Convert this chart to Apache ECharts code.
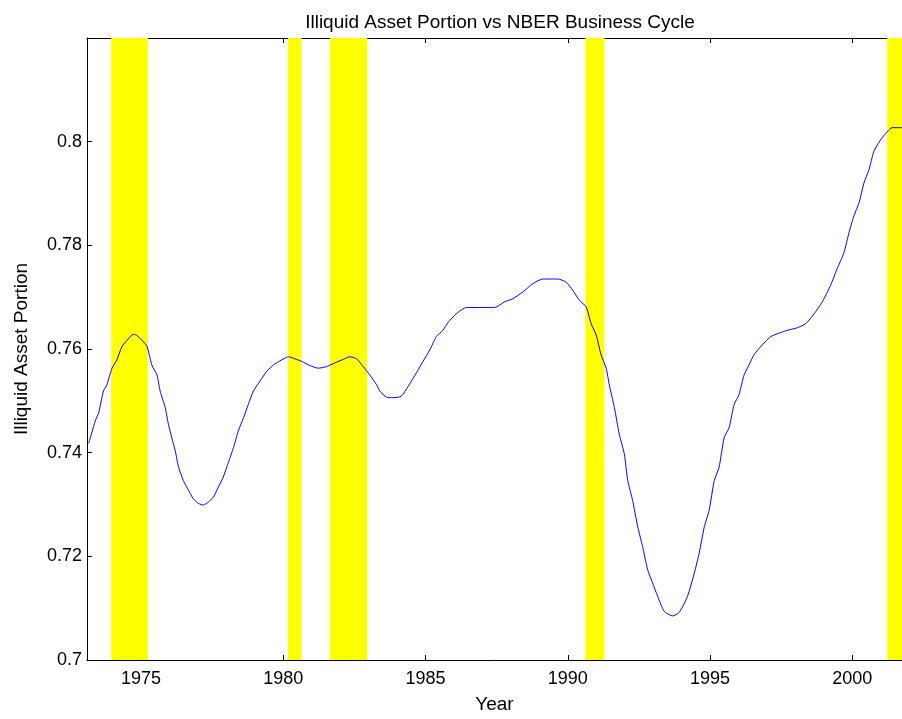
<!DOCTYPE html>
<html>
<head>
<meta charset="utf-8">
<script src="https://cdn.jsdelivr.net/npm/echarts@6/dist/echarts.min.js"></script>
<style>
html,body{margin:0;padding:0;background:#fff;}
#chart{width:902px;height:719px;}
</style>
</head>
<body>
<div id="chart"></div>
<script>
var years = [1973.16,1973.39,1973.51,1973.68,1973.80,1973.98,1974.15,1974.33,1974.51,1974.72,1974.83,1975.03,1975.21,1975.38,1975.56,1975.67,1975.85,1975.96,1976.08,1976.20,1976.32,1976.49,1976.67,1976.84,1977.02,1977.19,1977.37,1977.54,1977.72,1977.89,1978.07,1978.25,1978.42,1978.60,1978.77,1978.95,1979.18,1979.42,1979.65,1979.88,1980.18,1980.41,1980.65,1980.94,1981.23,1981.52,1981.81,1982.11,1982.34,1982.58,1982.81,1983.04,1983.28,1983.39,1983.63,1983.86,1984.15,1984.39,1984.68,1984.91,1985.15,1985.38,1985.61,1985.79,1986.08,1986.44,1986.90,1987.43,1987.78,1988.07,1988.42,1988.77,1989.12,1989.65,1989.94,1990.18,1990.41,1990.65,1990.82,1991.00,1991.17,1991.35,1991.46,1991.64,1991.81,1991.99,1992.11,1992.28,1992.46,1992.63,1992.81,1992.98,1993.16,1993.39,1993.68,1993.92,1994.21,1994.45,1994.62,1994.80,1994.97,1995.15,1995.32,1995.50,1995.67,1995.85,1996.02,1996.20,1996.37,1996.55,1996.84,1997.14,1997.66,1998.07,1998.37,1998.66,1998.95,1999.24,1999.47,1999.71,1999.89,2000.06,2000.24,2000.41,2000.59,2000.76,2000.99,2001.23,2001.40,2001.75];
var values = [0.7418,0.7461,0.7477,0.7519,0.7531,0.7563,0.7579,0.7605,0.7617,0.7628,0.7627,0.7617,0.7605,0.7569,0.7550,0.7519,0.7487,0.7455,0.7429,0.7404,0.7372,0.7346,0.7327,0.7311,0.7302,0.7299,0.7305,0.7314,0.7334,0.7353,0.7381,0.7410,0.7442,0.7467,0.7493,0.7519,0.7538,0.7557,0.7569,0.7577,0.7585,0.7581,0.7576,0.7568,0.7563,0.7566,0.7573,0.7580,0.7585,0.7581,0.7566,0.7550,0.7531,0.7519,0.7507,0.7506,0.7509,0.7528,0.7554,0.7576,0.7598,0.7624,0.7636,0.7651,0.7668,0.7680,0.7680,0.7680,0.7691,0.7697,0.7710,0.7726,0.7735,0.7735,0.7729,0.7713,0.7694,0.7681,0.7649,0.7627,0.7589,0.7563,0.7531,0.7487,0.7436,0.7397,0.7346,0.7308,0.7257,0.7219,0.7174,0.7149,0.7123,0.7094,0.7085,0.7092,0.7123,0.7168,0.7206,0.7257,0.7289,0.7346,0.7372,0.7429,0.7448,0.7493,0.7512,0.7550,0.7569,0.7589,0.7608,0.7624,0.7635,0.7641,0.7649,0.7668,0.7691,0.7723,0.7755,0.7786,0.7825,0.7857,0.7882,0.7920,0.7946,0.7981,0.8003,0.8019,0.8027,0.8027];
var recessionStart = [1973.95, 1980.17, 1981.64, 1990.62, 2001.23];
var recessionEnd   = [1975.24, 1980.64, 1982.95, 1991.29, 2001.75];
var xTicks = [1975, 1980, 1985, 1990, 1995, 2000];
var yTicks = [0.70, 0.72, 0.74, 0.76, 0.78, 0.80];
var xMin = 1973.1, xMax = 2001.75, yMin = 0.70, yMax = 0.82;

var FONT = 'Arial, "Liberation Sans", Helvetica, sans-serif';
var lineData = years.map(function (y, i) { return [y, values[i]]; });
var bands = recessionStart.map(function (s, i) {
  return [{ xAxis: s }, { xAxis: recessionEnd[i] }];
});

var chart = echarts.init(document.getElementById('chart'), null, { renderer: 'canvas' });
var axisLineStyle = { color: '#000', width: 1 };
chart.setOption({
  animation: false,
  backgroundColor: '#fff',
  title: {
    text: 'Illiquid Asset Portion vs NBER Business Cycle',
    left: 495, top: 8, textAlign: 'center',
    textStyle: { fontFamily: FONT, fontSize: 19, fontWeight: 'normal', color: '#000' }
  },
  grid: { left: 87, right: -2, top: 38, bottom: 55, containLabel: false },
  xAxis: [{
    type: 'value', min: xMin, max: xMax, position: 'bottom',
    name: 'Year', nameLocation: 'middle', nameGap: 35,
    nameTextStyle: { fontFamily: FONT, fontSize: 19, color: '#000' },
    axisLine: { show: true, lineStyle: axisLineStyle },
    axisTick: { show: true, inside: true, length: 5, customValues: xTicks, lineStyle: axisLineStyle },
    axisLabel: {
      customValues: xTicks, fontFamily: FONT, fontSize: 18, color: '#000', margin: 10,
      formatter: function (v) { return String(Math.round(v)); }
    },
    splitLine: { show: false }
  }, {
    type: 'value', min: xMin, max: xMax, position: 'top',
    axisLine: { show: true, onZero: false, lineStyle: axisLineStyle },
    axisTick: { show: true, inside: true, length: 5, customValues: xTicks, lineStyle: axisLineStyle },
    axisLabel: { show: false },
    splitLine: { show: false }
  }],
  yAxis: [{
    type: 'value', min: yMin, max: yMax,
    name: 'Illiquid Asset Portion', nameLocation: 'middle', nameGap: 56,
    nameTextStyle: { fontFamily: FONT, fontSize: 19, color: '#000' },
    axisLine: { show: true, lineStyle: axisLineStyle },
    axisTick: { show: true, inside: true, length: 5, customValues: yTicks, lineStyle: axisLineStyle },
    axisLabel: {
      customValues: yTicks, fontFamily: FONT, fontSize: 18, color: '#000', margin: 5,
      formatter: function (v) { return String(+(+v).toFixed(2)); }
    },
    splitLine: { show: false }
  }],
  series: [{
    type: 'line', data: [], z: 1, silent: true,
    markArea: { silent: true, itemStyle: { color: '#ffff00', opacity: 1 }, data: bands }
  }, {
    type: 'line', data: lineData, z: 5, showSymbol: false, symbol: 'none', smooth: 0.2,
    lineStyle: { color: '#0000ff', width: 1 }, silent: true
  }]
});
</script>
</body>
</html>
